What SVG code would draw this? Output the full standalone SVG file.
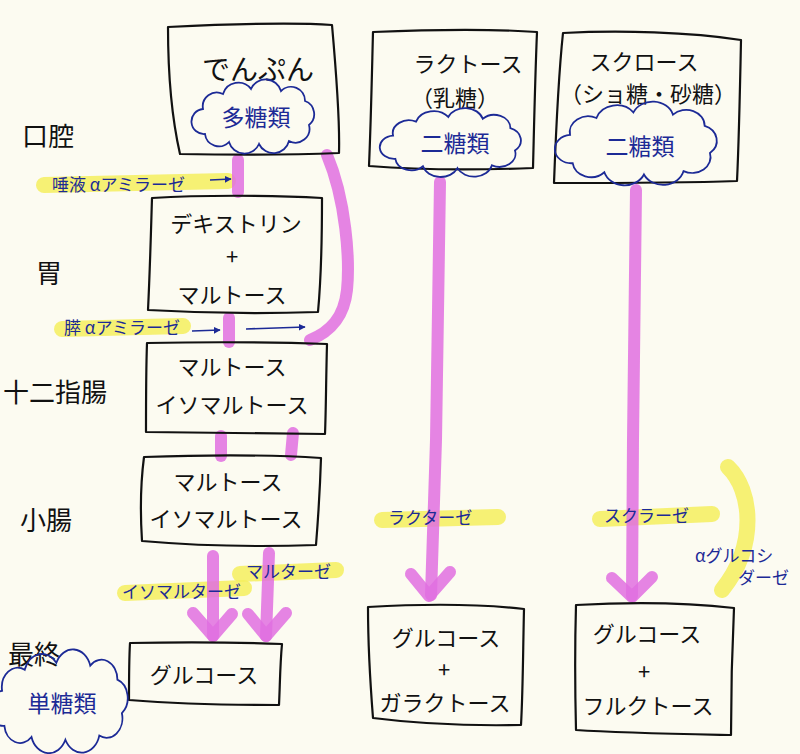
<svg xmlns="http://www.w3.org/2000/svg" width="800" height="754" viewBox="0 0 800 754">
<defs>
<style>
text{font-family:"Noto Sans CJK JP","Noto Sans",sans-serif;}
.box{fill:none;stroke:#111;stroke-width:2.2;stroke-linejoin:round;}
.t{font-size:22px;fill:#111;text-anchor:middle;}
.big{font-size:28px;fill:#111;text-anchor:middle;}
.stage{font-size:26px;fill:#111;}
.cl{font-size:23px;text-anchor:middle;fill:#1c2a96;}
.lab{font-size:17px;fill:#1c2a96;}
.cloud{fill:none;stroke:#1c2a96;stroke-width:1.8;}
.hl{fill:none;stroke:#f4ef5e;stroke-width:16;stroke-linecap:round;opacity:0.85;}
.pk{fill:none;stroke:#e06ee0;stroke-width:12;stroke-linecap:round;stroke-linejoin:round;opacity:0.85;}
.ba{fill:none;stroke:#1c2a96;stroke-width:1.6;}
</style>
<path id="cloud" vector-effect="non-scaling-stroke" d="M-53,-8 a14,14 0 0 1 20,-15 a16,16 0 0 1 28,-5 a16,16 0 0 1 30,2 a14,14 0 0 1 24,10 a14,14 0 0 1 4,24 a14,14 0 0 1 -20,16 a16,16 0 0 1 -30,3 a16,16 0 0 1 -30,-2 a14,14 0 0 1 -24,-8 a12,12 0 0 1 -2,-25 z"/>
<marker id="bh" viewBox="0 0 10 10" refX="9" refY="5" markerWidth="7" markerHeight="7" orient="auto" markerUnits="userSpaceOnUse"><path d="M0,0 L10,5 L0,10 z" fill="#1c2a96"/></marker>
</defs>
<rect width="800" height="754" fill="#fcfbf1"/>

<g id="highlights">
<path class="hl" d="M44,185 L228,181"/>
<path class="hl" d="M62,329 L183,326"/>
<path class="hl" d="M125,593 L244,588"/>
<path class="hl" d="M240,574 L336,570"/>
<path class="hl" d="M382,520 L498,517"/>
<path class="hl" d="M600,519 L712,514"/>
<path class="hl" d="M728,467 C752,490 758,545 722,590"/>
</g>

<g id="connectors">
<path class="pk" d="M238,160 L238,192"/>
<path class="pk" d="M327,155 C346,200 350,260 347,290 C344,318 330,332 310,340"/>
<path class="pk" d="M229,318 L229,342"/>
<path class="pk" d="M221,436 L221,456"/>
<path class="pk" d="M293,433 L291,455"/>
<path class="pk" d="M213,556 L213,636"/>
<path class="pk" d="M193,613 L213,636 L232,614"/>
<path class="pk" d="M269,553 L266,636"/>
<path class="pk" d="M248,614 L266,636 L286,613"/>
<path class="pk" d="M440,182 L436,440 L431,595"/>
<path class="pk" d="M411,574 L429,596 L450,572"/>
<path class="pk" d="M636,190 L633,440 L632,596"/>
<path class="pk" d="M612,578 L632,597 L652,577"/>
<path class="ba" d="M210,180 L231,179" marker-end="url(#bh)"/>
<path class="ba" d="M192,331 L220,330" marker-end="url(#bh)"/>
<path class="ba" d="M246,329 L305,327" marker-end="url(#bh)"/>
</g>

<g id="starch">
<path class="box" d="M168,27 C230,24 290,22 332,25 C336,70 340,120 339,153 C290,155 230,155 180,154 C170,110 168,60 168,27 z"/>
<text class="big" x="258" y="80">でんぷん</text>
<use href="#cloud" class="cloud" transform="translate(256,117)"/>
<text class="cl" x="256" y="126">多糖類</text>
</g>

<g id="lactose">
<path class="box" d="M373,32 C420,30 480,28 537,32 C535,80 534,130 533,168 C480,170 420,170 369,166 C371,120 372,70 373,32 z"/>
<text class="t" x="468" y="72">ラクトース</text>
<text class="t" x="455" y="106">（乳糖）</text>
<use href="#cloud" class="cloud" transform="translate(454,143) scale(1.15,0.93)"/>
<text class="cl" x="455" y="152">二糖類</text>
</g>

<g id="sucrose">
<path class="box" d="M563,33 C620,30 690,32 741,40 C740,90 739,140 737,181 C680,183 610,183 554,183 C556,130 558,80 563,33 z"/>
<text class="t" x="644" y="70">スクロース</text>
<text class="t" x="648" y="102">（ショ糖・砂糖）</text>
<use href="#cloud" class="cloud" transform="translate(640,144) scale(1.32,1.13)"/>
<text class="cl" x="640" y="155">二糖類</text>
</g>

<g id="dextrin">
<path class="box" d="M152,198 C200,195 270,195 322,198 C322,240 321,280 318,312 C260,314 200,313 148,310 C150,270 151,230 152,198 z"/>
<text class="t" x="236" y="232">デキストリン</text>
<text class="t" x="232" y="265">+</text>
<text class="t" x="232" y="303">マルトース</text>
</g>

<g id="maltose1">
<path class="box" d="M147,343 C200,342 270,342 327,344 C326,380 326,410 325,434 C260,433 200,433 146,432 C146,400 146,370 147,343 z"/>
<text class="t" x="232" y="375">マルトース</text>
<text class="t" x="232" y="413">イソマルトース</text>
</g>

<g id="maltose2">
<path class="box" d="M144,457 C200,455 260,454 321,458 C320,490 318,520 316,545 C260,547 200,546 142,541 C140,510 141,480 144,457 z"/>
<text class="t" x="228" y="490">マルトース</text>
<text class="t" x="226" y="527">イソマルトース</text>
</g>

<g id="glucose">
<path class="box" d="M130,643 C180,642 230,642 282,644 C280,665 280,685 279,705 C230,705 180,704 129,700 C129,680 129,660 130,643 z"/>
<text class="t" x="204" y="683">グルコース</text>
</g>

<g id="glu-gal">
<path class="box" d="M368,607 C420,604 480,604 524,609 C523,650 523,690 521,725 C470,726 420,724 373,718 C370,680 368,640 368,607 z"/>
<text class="t" x="446" y="646">グルコース</text>
<text class="t" x="444" y="678">+</text>
<text class="t" x="445" y="711">ガラクトース</text>
</g>

<g id="glu-fru">
<path class="box" d="M576,605 C630,602 690,603 734,608 C732,650 731,690 731,735 C680,734 620,733 576,730 C575,690 575,640 576,605 z"/>
<text class="t" x="647" y="642">グルコース</text>
<text class="t" x="644" y="680">+</text>
<text class="t" x="648" y="714">フルクトース</text>
</g>

<g id="labels">
<text class="stage" x="22" y="146">口腔</text>
<text class="stage" x="36" y="283">胃</text>
<text class="stage" x="3" y="402">十二指腸</text>
<text class="stage" x="20" y="530">小腸</text>
<text class="stage" x="8" y="664">最終</text>
<use href="#cloud" class="cloud" transform="translate(62,702) scale(1.13,1.4)"/>
<text class="cl" x="62" y="712">単糖類</text>
<text class="lab" x="52" y="191">唾液 αアミラーゼ</text>
<text class="lab" x="64" y="334">膵 αアミラーゼ</text>
<text class="lab" x="122" y="598">イソマルターゼ</text>
<text class="lab" x="246" y="578">マルターゼ</text>
<text class="lab" x="388" y="524">ラクターゼ</text>
<text class="lab" x="604" y="522">スクラーゼ</text>
<text class="lab" x="695" y="562">αグルコシ</text>
<text class="lab" x="738" y="584">ダーゼ</text>
</g>
</svg>
